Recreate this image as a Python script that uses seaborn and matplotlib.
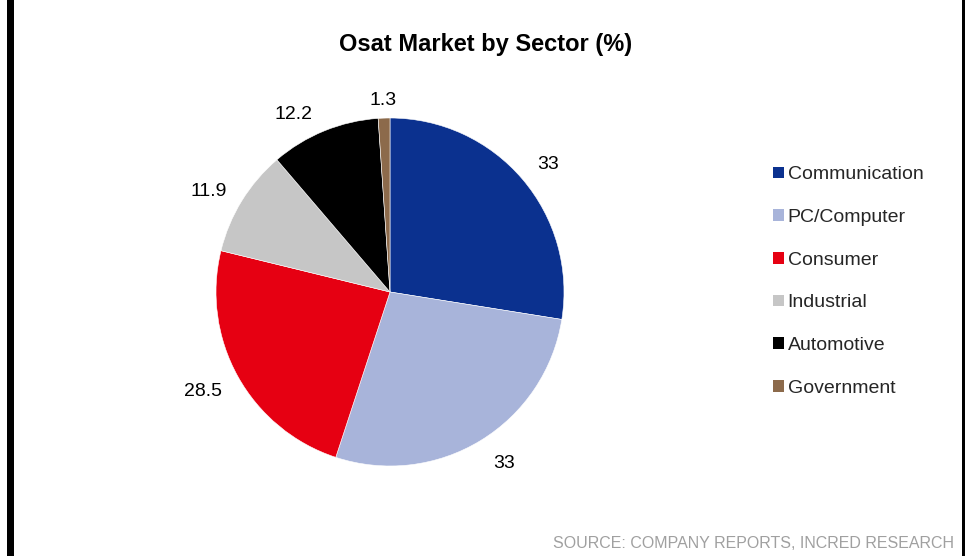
import matplotlib
matplotlib.use("Agg")
import matplotlib.pyplot as plt
from matplotlib.patches import Patch, Rectangle
import numpy as np
import seaborn as sns

# Sector shares (%)
sectors = ["Communication", "PC/Computer", "Consumer", "Industrial", "Automotive", "Government"]
shares = [33, 33, 28.5, 11.9, 12.2, 1.3]
value_labels = ["33", "33", "28.5", "11.9", "12.2", "1.3"]
colors = ["#0b318f", "#a8b4da", "#e60012", "#c6c6c6", "#000000", "#8c6a4b"]

# label placement: distance from centre (in radii) and angular nudge (deg)
label_radius = [1.174, 1.175, 1.21, 1.20, 1.172, 1.11]
label_nudge = [-1.2, 2.5, -1.6, 2.1, 5.9, 0.0]

sns.set_theme(style="white")
plt.rcParams["font.family"] = ["Liberation Sans", "DejaVu Sans"]

W, H = 971, 556
fig = plt.figure(figsize=(W / 100, H / 100), dpi=100)
fig.patch.set_facecolor("white")

# pie axes: centre (390, 292) px, radius 174 px
cx, cy, r = 390, 292, 174
ax = fig.add_axes([(cx - r) / W, (H - cy - r) / H, 2 * r / W, 2 * r / H])
wedges, _ = ax.pie(
    shares,
    colors=colors,
    startangle=90,
    counterclock=False,
    wedgeprops=dict(edgecolor="white", linewidth=0.4),
)
ax.set_xlim(-1, 1)
ax.set_ylim(-1, 1)
ax.set_aspect("auto")
ax.axis("off")

# value labels just outside each wedge
for w, txt, lr, nd in zip(wedges, value_labels, label_radius, label_nudge):
    mid = np.deg2rad((w.theta1 + w.theta2) / 2 + nd)
    ax.text(lr * np.cos(mid), lr * np.sin(mid), txt, ha="center", va="center_baseline",
            fontsize=14, color="black", clip_on=False)

fig.text(0.5, 1 - 44 / H, "Osat Market by Sector (%)", ha="center", va="center",
         fontsize=17, fontweight="bold", color="black")

handles = [Patch(facecolor=c, edgecolor="none", label=s) for c, s in zip(colors, sectors)]
fig.legend(handles=handles, loc="center left", bbox_to_anchor=(773 / W, 1 - 281.5 / H),
           frameon=False, fontsize=14, handlelength=0.55, handleheight=0.55,
           handletextpad=0.2, labelspacing=1.32, borderpad=0, borderaxespad=0)

fig.text(954 / W, 1 - 544 / H, "SOURCE: COMPANY REPORTS, INCRED RESEARCH",
         ha="right", va="center", fontsize=11.5, color="#a0a0a0")

# side rules of the panel
fig.add_artist(Rectangle((7 / W, 0), 6.5 / W, 1, transform=fig.transFigure,
                         facecolor="black", edgecolor="none"))
fig.add_artist(Rectangle((962 / W, 0), 2.5 / W, 1, transform=fig.transFigure,
                         facecolor="black", edgecolor="none"))

fig.savefig("out.png", dpi=100, facecolor="white")
